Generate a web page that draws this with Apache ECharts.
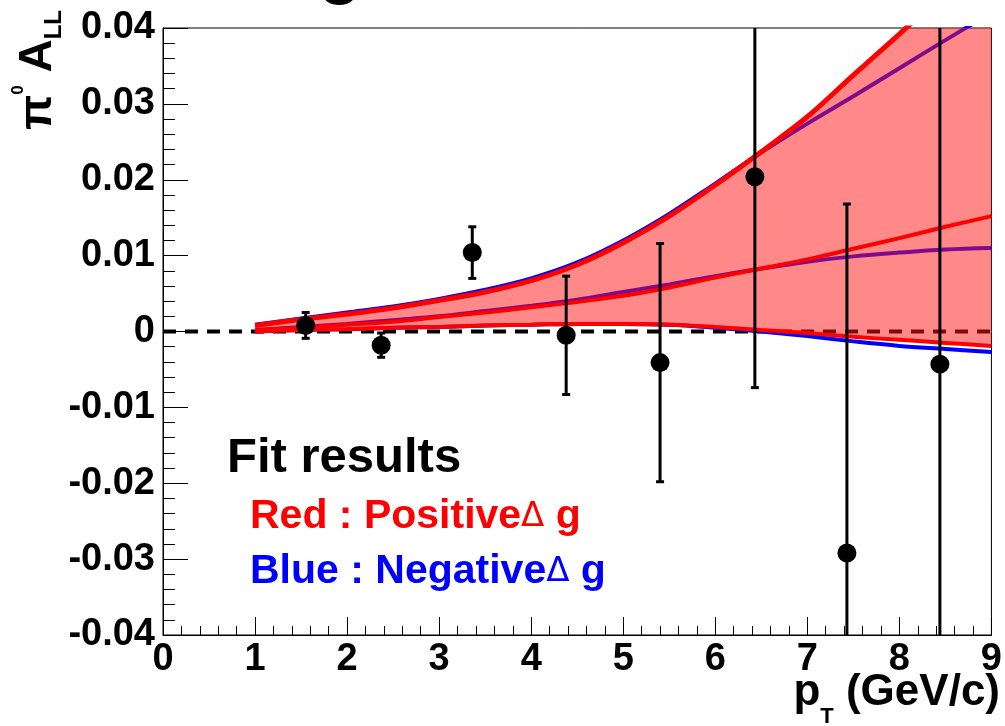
<!DOCTYPE html>
<html><head><meta charset="utf-8">
<script src="https://cdn.jsdelivr.net/npm/echarts@6/dist/echarts.min.js"></script>
<style>html,body{margin:0;padding:0;background:#fff}#c{width:1005px;height:726px}</style>
</head><body><div id="c"></div>
<script>
// ---- data ----
const xTickLabels = ['0','1','2','3','4','5','6','7','8','9'];
const yTickLabels = ['-0.04','-0.03','-0.02','-0.01','0','0.01','0.02','0.03','0.04'];
const xMin = 0, xMax = 9, xStep = 1;
const yMin = -0.04, yMax = 0.04, yStep = 0.01;

const pointX   = [1.55, 2.37, 3.36, 4.38, 5.40, 6.43, 7.43, 8.44];
const pointY   = [0.0008, -0.0018, 0.0104, -0.0005, -0.0041, 0.0204, -0.0292, -0.0043];
const pointErr = [0.0017, 0.0016, 0.0034, 0.0078, 0.0157, 0.0278, 0.0460, 0.0500];

const curveX    = [1, 1.5, 2, 2.5, 3, 3.5, 4, 4.5, 5, 5.5, 6, 6.5, 7, 7.5, 8, 8.5, 9];
const upperRed  = [0.0008, 0.0016, 0.0023, 0.0031, 0.0041, 0.0052, 0.0067, 0.0088, 0.0117, 0.0152, 0.0193, 0.0237, 0.0283, 0.0338, 0.0392, 0.0447, 0.0500];
const upperBlue = [0.0009, 0.0017, 0.0025, 0.0033, 0.0043, 0.0055, 0.0070, 0.0091, 0.0120, 0.0155, 0.0195, 0.0236, 0.0274, 0.0310, 0.0347, 0.0384, 0.0420];
const midRed    = [0.0002, 0.0005, 0.0009, 0.0013, 0.0019, 0.0025, 0.0032, 0.0039, 0.0047, 0.0058, 0.0071, 0.0083, 0.0095, 0.0109, 0.0123, 0.0138, 0.0152];
const midBlue   = [0.0002, 0.0006, 0.0010, 0.0015, 0.0020, 0.0027, 0.0034, 0.0042, 0.0052, 0.0062, 0.0073, 0.0083, 0.0092, 0.0099, 0.0104, 0.0108, 0.0110];
const lowRed    = [0.0000, 0.0002, 0.0003, 0.0005, 0.0006, 0.0008, 0.0009, 0.0010, 0.0010, 0.0009, 0.0006, 0.0002, -0.0002, -0.0007, -0.0011, -0.0015, -0.0019];
const lowBlue   = [0.0000, 0.0002, 0.0003, 0.0005, 0.0006, 0.0008, 0.0009, 0.0010, 0.0010, 0.0009, 0.0005, 0.0000, -0.0006, -0.0013, -0.0019, -0.0023, -0.0027];

const zeroLineX = [0, 9];
const zeroLineY = [0, 0];

// ---- chart ----
const pairs = (xs, ys) => xs.map((x, i) => [x, ys[i]]);
const FONT = 'Liberation Sans';
const SMOOTH = 0.35;
const chart = echarts.init(document.getElementById('c'), null, {renderer: 'canvas'});

const blueLine = (ys) => ({
  type: 'line', data: pairs(curveX, ys), symbol: 'none', z: 2, silent: true, smooth: SMOOTH,
  lineStyle: {color: '#0000ff', width: 4}, clip: true
});
const redLine = (ys, w) => ({
  type: 'line', data: pairs(curveX, ys), symbol: 'none', z: 4, silent: true, smooth: SMOOTH,
  lineStyle: {color: '#ff0000', width: w}, clip: true
});

const option = {
  animation: false,
  backgroundColor: '#fff',
  grid: {left: 163, right: 6, top: 28, bottom: 91, show: true, borderColor: '#000', borderWidth: 1, backgroundColor: 'transparent'},
  xAxis: {
    type: 'value', min: xMin, max: xMax, interval: xStep,
    axisLine: {show: true, onZero: false, lineStyle: {color: '#000', width: 1}},
    axisTick: {show: true, inside: true, length: 18, lineStyle: {color: '#000', width: 1}},
    minorTick: {show: true, splitNumber: 5, length: 9, lineStyle: {color: '#000', width: 1}},
    splitLine: {show: false}, minorSplitLine: {show: false},
    axisLabel: {show: true, margin: 6, color: '#000', fontFamily: FONT, fontWeight: 'bold', fontSize: 38,
      showMinLabel: true, showMaxLabel: true,
      formatter: v => xTickLabels[Math.round((v - xMin) / xStep)]}
  },
  yAxis: {
    type: 'value', min: yMin, max: yMax, interval: yStep,
    axisLine: {show: true, onZero: false, lineStyle: {color: '#000', width: 1}},
    axisTick: {show: true, inside: true, length: 25, lineStyle: {color: '#000', width: 1}},
    minorTick: {show: true, splitNumber: 5, length: 12, lineStyle: {color: '#000', width: 1}},
    splitLine: {show: false}, minorSplitLine: {show: false},
    axisLabel: {show: true, margin: 8, color: '#000', fontFamily: FONT, fontWeight: 'bold', fontSize: 38,
      showMinLabel: true, showMaxLabel: true,
      formatter: v => yTickLabels[Math.round((v - yMin) / yStep)]}
  },
  series: [
    {type: 'line', data: pairs(zeroLineX, zeroLineY), symbol: 'none', z: 1, silent: true,
      lineStyle: {color: '#000', width: 4, type: [13, 9]}},
    blueLine(upperBlue), blueLine(midBlue), blueLine(lowBlue),
    {type: 'custom', z: 3, silent: true, clip: true,
      data: pairs(curveX, upperRed),
      renderItem: (params, api) => {
        if (params.dataIndex !== 0) return null;
        const pts = [];
        for (let i = 0; i < curveX.length; i++) pts.push(api.coord([curveX[i], upperRed[i]]));
        for (let i = curveX.length - 1; i >= 0; i--) pts.push(api.coord([curveX[i], lowRed[i]]));
        return {type: 'polygon', shape: {points: pts}, style: {fill: 'rgba(255,20,20,0.5)'}};
      }},
    redLine(upperRed, 5), redLine(midRed, 4), redLine(lowRed, 4),
    {type: 'custom', z: 5, silent: true, clip: true,
      data: pointX.map((x, i) => [x, pointY[i], pointErr[i]]),
      renderItem: (params, api) => {
        const x = api.value(0), y = api.value(1), e = api.value(2);
        const t = api.coord([x, y + e]), b = api.coord([x, y - e]);
        const c = 4, st = {stroke: '#000', lineWidth: 3};
        return {type: 'group', children: [
          {type: 'line', shape: {x1: t[0], y1: t[1], x2: b[0], y2: b[1]}, style: st},
          {type: 'line', shape: {x1: t[0] - c, y1: t[1], x2: t[0] + c, y2: t[1]}, style: st},
          {type: 'line', shape: {x1: b[0] - c, y1: b[1], x2: b[0] + c, y2: b[1]}, style: st}
        ]};
      }},
    {type: 'scatter', data: pairs(pointX, pointY), symbol: 'circle', symbolSize: 19, z: 6, silent: true,
      itemStyle: {color: '#000', opacity: 1}}
  ],
  graphic: [
    {type: 'text', x: 340, y: 6, z: 10, silent: true,
      style: {text: 'g', fontFamily: FONT, fontSize: 80, fill: '#000', align: 'center', verticalAlign: 'bottom'}},
    {type: 'text', x: 38, y: 10, rotation: Math.PI / 2, z: 10, silent: true,
      style: {text: '{a|π}{b|0}{a| A}{c|LL}', align: 'right', verticalAlign: 'middle', fill: '#000',
        rich: {
          a: {fontFamily: FONT, fontWeight: 'bold', fontSize: 46, lineHeight: 56, verticalAlign: 'middle', fill: '#000'},
          b: {fontFamily: FONT, fontWeight: 'bold', fontSize: 17, lineHeight: 19, verticalAlign: 'top', fill: '#000'},
          c: {fontFamily: FONT, fontWeight: 'bold', fontSize: 24, lineHeight: 36, verticalAlign: 'bottom', fill: '#000'}
        }}},
    {type: 'text', x: 1000, y: 693, z: 10, silent: true,
      style: {text: '{a|p}{c|T}{a| (GeV/c)}', align: 'right', verticalAlign: 'middle', fill: '#000',
        rich: {
          a: {fontFamily: FONT, fontWeight: 'bold', fontSize: 44, lineHeight: 70, verticalAlign: 'middle', fill: '#000'},
          c: {fontFamily: FONT, fontWeight: 'bold', fontSize: 22, lineHeight: 22, verticalAlign: 'bottom', fill: '#000'}
        }}},
    {type: 'text', x: 227, y: 458, z: 10, silent: true,
      style: {text: 'Fit results', fontFamily: FONT, fontWeight: 'bold', fontSize: 49, fill: '#000', align: 'left', verticalAlign: 'middle'}},
    {type: 'text', x: 250, y: 517, z: 10, silent: true,
      style: {text: '{t|Red : Positive}{d|Δ}{t| g}', align: 'left', verticalAlign: 'middle',
        rich: {
          t: {fontFamily: FONT, fontWeight: 'bold', fontSize: 41, fill: '#ff0000'},
          d: {fontFamily: 'DejaVu Sans', fontWeight: 'normal', fontSize: 34, fill: '#ff0000'}
        }}},
    {type: 'text', x: 250, y: 572, z: 10, silent: true,
      style: {text: '{t|Blue : Negative}{d|Δ}{t| g}', align: 'left', verticalAlign: 'middle',
        rich: {
          t: {fontFamily: FONT, fontWeight: 'bold', fontSize: 41, fill: '#0000ff'},
          d: {fontFamily: 'DejaVu Sans', fontWeight: 'normal', fontSize: 34, fill: '#0000ff'}
        }}}
  ]
};
chart.setOption(option);
</script>
</body></html>
